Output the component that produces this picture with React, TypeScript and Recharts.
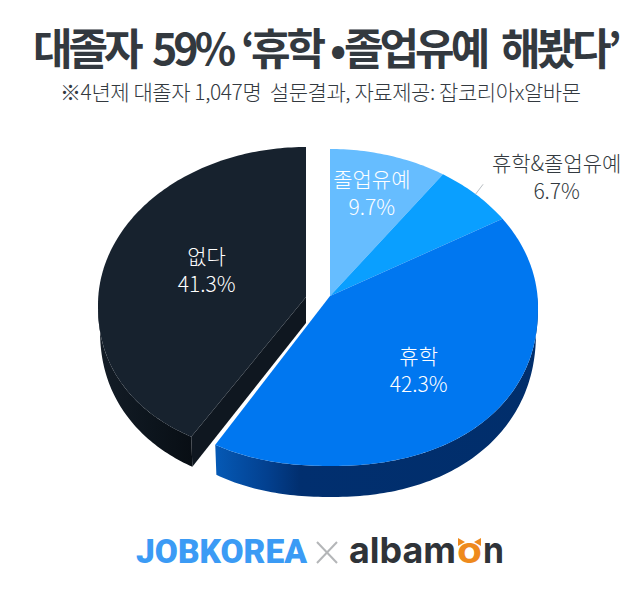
import React from 'react';
import { PieChart, Pie, Cell } from 'recharts';

const categories = ['졸업유예', '휴학&졸업유예', '휴학', '없다'];
const shares = [9.7, 6.7, 42.3, 41.3];
const valueLabels = ['9.7%', '6.7%', '42.3%', '41.3%'];
const topColors = ['#66BDFF', '#0A9FFF', '#0077F0', '#17222E'];
const labelColors = ['#FFFFFF', '#333A40', '#FFFFFF', '#FFFFFF'];
const labelRadiusFactors = [0.755, 1.37, 0.58, 0.53];
const labelAngleShifts = [-1, 8.6, 0, 10];

const rows = categories.map((name, i) => ({ name, value: shares[i], fill: topColors[i], i }));

const CX = 330;
const CY = 307;
const RX = 208;
const RY = 158;
const APEX_RISE = 11;
const EXPLODE_DX = -24;
const EXPLODE_DY = -2;
const EXPLODED = '없다';
const FONT = '"Noto Sans CJK KR", "Noto Sans", sans-serif';

const rad = (d: number) => (d * Math.PI) / 180;
const warp = (t: number) => (t < 180 ? t - 3.5 * Math.sin(rad(t)) : t);

type Shape = { ox: number; oy: number; rx: number; ryUp: number; ryLow: number; nLow: number };

const pt = (t: number, s: Shape, f = 1) => {
  const w = rad(warp(t));
  const sn = Math.sin(w);
  const cs = Math.cos(w);
  const low = cs < 0;
  const e = low ? 2 / s.nLow : 1;
  const ry = low ? s.ryLow : s.ryUp;
  const x = Math.sign(sn) * Math.pow(Math.abs(sn), e);
  const y = Math.sign(cs) * Math.pow(Math.abs(cs), e);
  return [CX + s.ox + s.rx * f * x, CY + s.oy - ry * f * y];
};

const trace = (a: number, b: number, s: Shape) => {
  const out: string[] = [];
  const n = Math.max(2, Math.ceil(Math.abs(b - a)));
  for (let k = 0; k <= n; k++) {
    const p = pt(a + ((b - a) * k) / n, s);
    out.push(`${p[0].toFixed(2)} ${p[1].toFixed(2)}`);
  }
  return out.join('L');
};

function shapesFor(ex: boolean) {
  const ox = ex ? EXPLODE_DX : 0;
  const oy = ex ? EXPLODE_DY : 0;
  const ryLow = ex ? 152 : 159;
  const top: Shape = { ox, oy, rx: RX, ryUp: RY, ryLow, nLow: 2.2 };
  const wall: Shape = { ox, oy: oy + 24, rx: 206, ryUp: RY, ryLow: ryLow + 7, nLow: 2.2 };
  return { top, wall };
}

function Slice3D(props: any) {
  const { startAngle, endAngle, fill, name } = props;
  const a = 90 - startAngle;
  const b = 90 - endAngle;
  const ex = name === EXPLODED;
  const { top, wall } = shapesFor(ex);
  const ax = CX + top.ox;
  const ay = CY + top.oy - APEX_RISE + (ex ? 3 : 0);
  const ps = pt(a, top);
  const face = `M${ax} ${ay}L${trace(a, b, top)}Z`;
  const wa = Math.max(a, 90);
  const wb = Math.min(b, 270);
  let side = null;
  if (wb > wa) {
    const d = `M${trace(wa, wb, top)}L${trace(wb, wa, wall)}Z`;
    side = <path d={d} fill={ex ? 'url(#darkWall)' : 'url(#blueWall)'} />;
  }
  let cut = null;
  if (ex) {
    const pw = pt(a, wall);
    cut = (
      <path
        d={`M${ax} ${ay}L${ps[0].toFixed(2)} ${ps[1].toFixed(2)}L${pw[0].toFixed(2)} ${pw[1].toFixed(2)}L${ax} ${ay + 26}Z`}
        fill="#0F1720"
      />
    );
  }
  return (
    <g>
      {side}
      {cut}
      <path d={face} fill={fill} />
    </g>
  );
}

function SliceLabel(props: any) {
  const { midAngle, name, index } = props;
  const t = 90 - midAngle;
  const ex = name === EXPLODED;
  const s: Shape = { ox: ex ? EXPLODE_DX : 0, oy: ex ? EXPLODE_DY : 0, rx: RX, ryUp: RY, ryLow: RY, nLow: 2 };
  const p = pt(t + labelAngleShifts[index], s, labelRadiusFactors[index]);
  const outside = labelRadiusFactors[index] > 1;
  const e = pt(t, s, 1.0);
  const e2 = pt(t - 1, s, 1.07);
  return (
    <g>
      {outside && <line x1={e[0]} y1={e[1]} x2={e2[0]} y2={e2[1]} stroke="#B9BEC2" strokeWidth={1} />}
      <text
        x={p[0]}
        y={p[1]}
        textAnchor="middle"
        fontFamily={FONT}
        fontSize={21}
        fontWeight={300}
        fill={labelColors[index]}
      >
        <tspan x={p[0]} dy={-5}>{name}</tspan>
        <tspan x={p[0]} dy={28}>{valueLabels[index]}</tspan>
      </text>
    </g>
  );
}

export default function App() {
  return (
    <div style={{ position: 'absolute', left: 0, top: 0, width: 640, height: 606, background: '#fff', overflow: 'hidden' }}>
      <svg width={640} height={606} style={{ position: 'absolute', left: 0, top: 0 }}>
        <defs>
          <linearGradient id="blueWall" gradientUnits="userSpaceOnUse" x1={216} y1={0} x2={538} y2={0}>
            <stop offset="0" stopColor="#0559B5" />
            <stop offset="0.16" stopColor="#03408F" />
            <stop offset="0.26" stopColor="#012F6F" />
            <stop offset="1" stopColor="#012E6B" />
          </linearGradient>
          <linearGradient id="darkWall" gradientUnits="userSpaceOnUse" x1={98} y1={0} x2={193} y2={0}>
            <stop offset="0" stopColor="#141D27" />
            <stop offset="0.6" stopColor="#0C141C" />
            <stop offset="1" stopColor="#080E14" />
          </linearGradient>
        </defs>
      </svg>
      <div style={{ position: 'absolute', left: 0, top: 0 }}>
        <PieChart width={640} height={606} margin={{ top: 0, right: 0, bottom: 0, left: 0 }}>
          <Pie
            data={rows}
            dataKey="value"
            nameKey="name"
            cx={CX}
            cy={CY}
            outerRadius={RX}
            startAngle={90}
            endAngle={-270}
            stroke="none"
            isAnimationActive={false}
            shape={Slice3D}
            label={SliceLabel}
            labelLine={false}
          >
            {rows.map((r) => <Cell key={r.name} fill={r.fill} />)}
          </Pie>
        </PieChart>
      </div>
      <svg width={640} height={606} style={{ position: 'absolute', left: 0, top: 0, pointerEvents: 'none' }}>
        <text y={65} fontFamily={FONT} fontSize={43} fontWeight={700} fill="#33393F" letterSpacing={-4} style={{ whiteSpace: 'pre' }}>
          <tspan x={33}>대졸자</tspan>
          <tspan x={152}>59%</tspan>
          <tspan x={241}>‘휴학</tspan>
          <tspan x={330}>•</tspan>
          <tspan x={344}>졸업유예</tspan>
          <tspan x={501}>해봤다’</tspan>
        </text>
        <text x={60} y={100} fontFamily={FONT} fontSize={21} fontWeight={300} fill="#33393F" textLength={521} lengthAdjust="spacing" style={{ whiteSpace: 'pre' }}>※4년제 대졸자 1,047명  설문결과, 자료제공: 잡코리아x알바몬</text>
        <text x={136} y={563} fontFamily='Roboto, Lato, sans-serif' fontSize={33} fontWeight={900} fill="#3B9BF5" textLength={171} lengthAdjust="spacingAndGlyphs">JOBKOREA</text>
        <line x1={317} y1={542} x2={337} y2={563} stroke="#B4B6B8" strokeWidth={2} />
        <line x1={337} y1={542} x2={317} y2={563} stroke="#B4B6B8" strokeWidth={2} />
        <text x={349} y={563} fontFamily='Inter, Roboto, sans-serif' fontSize={36} fontWeight={700} fill="#2F3338" textLength={107} lengthAdjust="spacingAndGlyphs">albam</text>
        <text x={457} y={563} fontFamily='Inter, Roboto, sans-serif' fontSize={36} fontWeight={700} fill="#EE8A1D" textLength={25} lengthAdjust="spacingAndGlyphs">o</text>
        <text x={483} y={563} fontFamily='Inter, Roboto, sans-serif' fontSize={36} fontWeight={700} fill="#2F3338" textLength={21} lengthAdjust="spacingAndGlyphs">n</text>
        <path d="M458 546L458 538L465 542ZM481 546L481 538L474 542Z" fill="#EE8A1D" />
      </svg>
    </div>
  );
}
